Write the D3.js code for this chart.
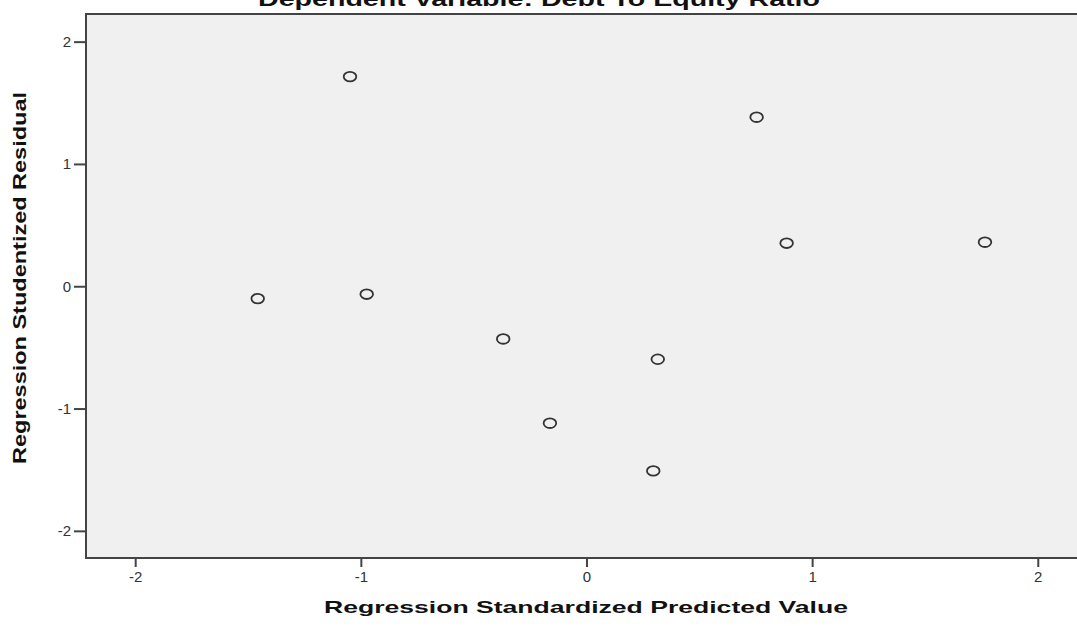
<!DOCTYPE html>
<html>
<head>
<meta charset="utf-8">
<script src="https://cdn.jsdelivr.net/npm/d3@7"></script>
<style>
  html, body { margin: 0; padding: 0; background: #fff; }
  svg { display: block; font-family: "Liberation Sans", Arial, sans-serif; }
</style>
</head>
<body>
<svg id="chart" width="1077" height="626"></svg>
<script>
// Data
const predicted = [-1.048, 0.754, 0.887, 1.766, -1.457, -0.974, -0.369, 0.316, -0.162, 0.296];
const residual  = [ 1.714, 1.382, 0.352, 0.360, -0.101, -0.065, -0.431, -0.597, -1.120, -1.510];
const xTicks = [-2, -1, 0, 1, 2];
const yTicks = [-2, -1, 0, 1, 2];
const titleText = "Dependent Variable: Debt To Equity Ratio";
const xLabelText = "Regression Standardized Predicted Value";
const yLabelText = "Regression Studentized Residual";

const svg = d3.select("#chart");
const plotLeft = 86, plotRight = 1082, plotTop = 14, plotBottom = 558;

const x = d3.scaleLinear().domain([-2.218, 2.196]).range([plotLeft, plotRight]);
const y = d3.scaleLinear().domain([-2.222, 2.226]).range([plotBottom, plotTop]);

// plot background
svg.append("rect")
  .attr("x", plotLeft).attr("y", plotTop)
  .attr("width", plotRight - plotLeft).attr("height", plotBottom - plotTop)
  .attr("fill", "#f0f0f0");

// frame (left, top, bottom lines)
svg.append("path")
  .attr("d", `M${plotRight},${plotTop}H${plotLeft}V${plotBottom}H${plotRight}`)
  .attr("fill", "none").attr("stroke", "#444").attr("stroke-width", 2);

const fmt = d => String(d);

// y axis
const yAxis = d3.axisLeft(y).tickValues(yTicks).tickSize(12).tickPadding(3).tickFormat(fmt);
const gy = svg.append("g").attr("transform", `translate(${plotLeft},0)`).call(yAxis)
  .attr("font-size", 15).attr("font-family", "'Liberation Sans', Arial, sans-serif");
gy.select(".domain").remove();
gy.selectAll(".tick line").attr("stroke", "#444").attr("stroke-width", 2);
gy.selectAll(".tick text").attr("fill", "#333");

// x axis
const xAxis = d3.axisBottom(x).tickValues(xTicks).tickSize(9).tickPadding(4).tickFormat(fmt);
const gx = svg.append("g").attr("transform", `translate(0,${plotBottom})`).call(xAxis)
  .attr("font-size", 15).attr("font-family", "'Liberation Sans', Arial, sans-serif");
gx.select(".domain").remove();
gx.selectAll(".tick line").attr("stroke", "#444").attr("stroke-width", 2);
gx.selectAll(".tick text").attr("fill", "#333");

// points
svg.append("g").selectAll("ellipse")
  .data(predicted.map((p, i) => [p, residual[i]]))
  .join("ellipse")
  .attr("cx", d => x(d[0]))
  .attr("cy", d => y(d[1]))
  .attr("rx", 6.3)
  .attr("ry", 4.8)
  .attr("fill", "none")
  .attr("stroke", "#333")
  .attr("stroke-width", 1.8);

// title (clipped at top, as in the reference)
svg.append("text")
  .attr("x", 539).attr("y", 6)
  .attr("text-anchor", "middle")
  .attr("font-weight", "bold")
  .attr("font-size", 20)
  .attr("fill", "#111")
  .attr("textLength", 562).attr("lengthAdjust", "spacingAndGlyphs")
  .text(titleText);

// x label
svg.append("text")
  .attr("x", 586).attr("y", 613)
  .attr("text-anchor", "middle")
  .attr("font-weight", "bold")
  .attr("font-size", 17)
  .attr("fill", "#111")
  .attr("textLength", 524).attr("lengthAdjust", "spacingAndGlyphs")
  .text(xLabelText);

// y label
svg.append("text")
  .attr("transform", "translate(26,278) rotate(-90)")
  .attr("text-anchor", "middle")
  .attr("font-weight", "bold")
  .attr("font-size", 18)
  .attr("fill", "#111")
  .attr("textLength", 372).attr("lengthAdjust", "spacingAndGlyphs")
  .text(yLabelText);
</script>
</body>
</html>
